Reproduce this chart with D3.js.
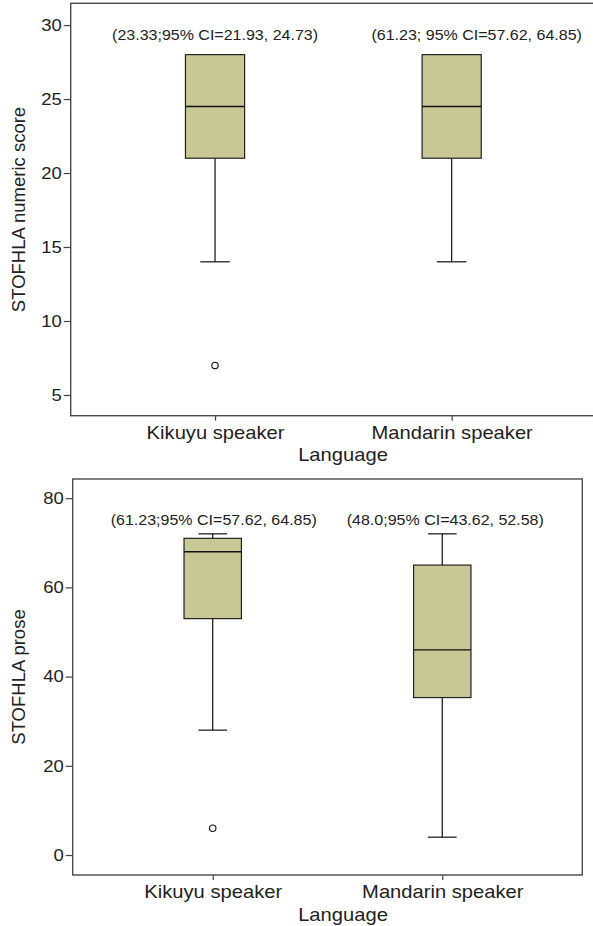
<!DOCTYPE html>
<html>
<head>
<meta charset="utf-8">
<script src="https://cdn.jsdelivr.net/npm/d3@7"></script>
<style>
  body { margin: 0; background: #fff; }
  text { font-family: "Liberation Sans", Arial, sans-serif; fill: #222; }
</style>
</head>
<body>
<div id="chart"></div>
<script>
// categories shared by both panels
var categories = ["Kikuyu speaker", "Mandarin speaker"];

// STOFHLA numeric score
var numericLow = [14, 14];
var numericQ1 = [21, 21];
var numericMedian = [24.5, 24.5];
var numericQ3 = [28, 28];
var numericHigh = [28, 28];
var numericOutliers = [[7], []];
var numericNotes = ["(23.33;95% CI=21.93, 24.73)", "(61.23; 95% CI=57.62, 64.85)"];
var numericTicks = [5, 10, 15, 20, 25, 30];

// STOFHLA prose
var proseLow = [28, 4];
var proseQ1 = [53, 35.3];
var proseMedian = [68, 46];
var proseQ3 = [71, 65];
var proseHigh = [72, 72];
var proseOutliers = [[6], []];
var proseNotes = ["(61.23;95% CI=57.62, 64.85)", "(48.0;95% CI=43.62, 52.58)"];
var proseTicks = [0, 20, 40, 60, 80];

var W = 593, H = 926;
var SX = 1.12; // the reference type is a little wide
var boxFill = "#c8c896";

var svg = d3.select("#chart").append("svg")
    .attr("width", W)
    .attr("height", H);

function stats(low, q1, med, q3, high, out) {
    return categories.map(function (c, i) {
        return { cat: c, low: low[i], q1: q1[i], med: med[i], q3: q3[i], high: high[i], out: out[i] };
    });
}

function drawPanel(p) {
    var x = d3.scalePoint().domain(categories).range([p.left, p.right]).padding(0.61);
    var y = d3.scaleLinear().domain(p.domain).range([p.bottom, p.top]);
    var bw = x.step() * 0.25;

    var g = svg.append("g");

    // y axis
    var yAxis = g.append("g")
        .attr("transform", "translate(" + p.left + ",0)")
        .call(d3.axisLeft(y).tickValues(p.ticks).tickSize(7).tickPadding(2));
    yAxis.select(".domain").remove();
    yAxis.selectAll("line").attr("stroke", "#444").attr("stroke-width", 1.2);
    yAxis.selectAll("text")
        .attr("x", -9 / SX)
        .attr("transform", "scale(" + SX + ",1)")
        .style("font-size", "16.5px")
        .attr("fill", "#222");

    // x axis
    var xAxis = g.append("g")
        .attr("transform", "translate(0," + p.bottom + ")")
        .call(d3.axisBottom(x).tickSize(5));
    xAxis.select(".domain").remove();
    xAxis.selectAll("line").attr("stroke", "#444").attr("stroke-width", 1.2);
    xAxis.selectAll("text")
        .attr("y", 23.5)
        .attr("dy", 0)
        .attr("transform", "scale(" + SX + ",1)")
        .style("font-size", "18px")
        .attr("fill", "#222");

    // frame
    g.append("rect")
        .attr("x", p.left).attr("y", p.top)
        .attr("width", p.right - p.left).attr("height", p.bottom - p.top)
        .attr("fill", "none").attr("stroke", "#4a4a4a").attr("stroke-width", 1.4);

    var box = g.selectAll(".box").data(p.data).enter().append("g").attr("class", "box");

    // whiskers
    box.append("line")
        .attr("x1", function (d) { return x(d.cat); }).attr("x2", function (d) { return x(d.cat); })
        .attr("y1", function (d) { return y(d.low); }).attr("y2", function (d) { return y(d.q1); })
        .attr("stroke", "#111").attr("stroke-width", 1.2);
    box.append("line")
        .attr("x1", function (d) { return x(d.cat); }).attr("x2", function (d) { return x(d.cat); })
        .attr("y1", function (d) { return y(d.q3); }).attr("y2", function (d) { return y(d.high); })
        .attr("stroke", "#111").attr("stroke-width", 1.2);
    box.append("line")
        .attr("x1", function (d) { return x(d.cat) - bw / 4; }).attr("x2", function (d) { return x(d.cat) + bw / 4; })
        .attr("y1", function (d) { return y(d.low); }).attr("y2", function (d) { return y(d.low); })
        .attr("stroke", "#111").attr("stroke-width", 1.2);
    box.filter(function (d) { return d.high > d.q3; }).append("line")
        .attr("x1", function (d) { return x(d.cat) - bw / 4; }).attr("x2", function (d) { return x(d.cat) + bw / 4; })
        .attr("y1", function (d) { return y(d.high); }).attr("y2", function (d) { return y(d.high); })
        .attr("stroke", "#111").attr("stroke-width", 1.2);

    // box + median
    box.append("rect")
        .attr("x", function (d) { return x(d.cat) - bw / 2; })
        .attr("width", bw)
        .attr("y", function (d) { return y(d.q3); })
        .attr("height", function (d) { return y(d.q1) - y(d.q3); })
        .attr("fill", boxFill).attr("stroke", "#222").attr("stroke-width", 1.2);
    box.append("line")
        .attr("x1", function (d) { return x(d.cat) - bw / 2; }).attr("x2", function (d) { return x(d.cat) + bw / 2; })
        .attr("y1", function (d) { return y(d.med); }).attr("y2", function (d) { return y(d.med); })
        .attr("stroke", "#111").attr("stroke-width", 1.4);

    // outliers
    box.selectAll("circle").data(function (d) { return d.out.map(function (v) { return { cat: d.cat, v: v }; }); })
        .enter().append("circle")
        .attr("cx", function (d) { return x(d.cat); })
        .attr("cy", function (d) { return y(d.v); })
        .attr("r", 3.2)
        .attr("fill", "#fff").attr("stroke", "#111").attr("stroke-width", 1.1);

    // CI notes
    g.selectAll(".note").data(p.notes).enter().append("text")
        .attr("class", "note")
        .attr("transform", function (d, i) {
            return "translate(" + (x(categories[i]) + p.noteDx[i]) + "," + y(p.noteAt) + ") scale(" + SX + ",1)";
        })
        .attr("text-anchor", "middle")
        .style("font-size", "14.3px")
        .text(function (d) { return d; });

    // titles
    g.append("text")
        .attr("transform", "translate(25," + (p.top + p.bottom) / 2 + ") rotate(-90)")
        .attr("text-anchor", "middle")
        .style("font-size", "18.5px")
        .text(p.title);
    g.append("text")
        .attr("transform", "translate(343," + (p.bottom + 45.7) + ") scale(" + SX + ",1)")
        .attr("text-anchor", "middle")
        .style("font-size", "18px")
        .text("Language");
}

drawPanel({
    left: 70.7, right: 596, top: 3.3, bottom: 415.7,
    domain: [3.6, 31.47], ticks: numericTicks,
    data: stats(numericLow, numericQ1, numericMedian, numericQ3, numericHigh, numericOutliers),
    notes: numericNotes, noteAt: 29, noteDx: [0, 25],
    title: "STOFHLA numeric score"
});

drawPanel({
    left: 72.7, right: 582.3, top: 479, bottom: 875,
    domain: [-4.48, 84.3], ticks: proseTicks,
    data: stats(proseLow, proseQ1, proseMedian, proseQ3, proseHigh, proseOutliers),
    notes: proseNotes, noteAt: 74, noteDx: [1, 3],
    title: "STOFHLA prose"
});
</script>
</body>
</html>
